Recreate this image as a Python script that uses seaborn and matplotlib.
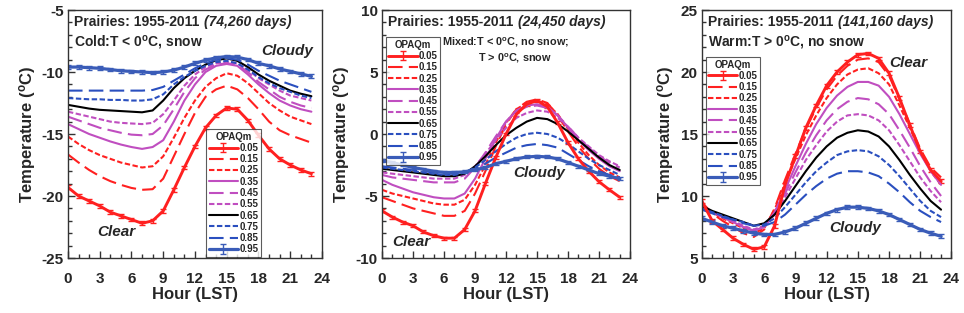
import numpy as np
import pandas as pd
import seaborn as sns
import matplotlib.pyplot as plt
from matplotlib.ticker import MultipleLocator

# hour of day (LST)
hours = list(range(24))
opaq_levels = ["0.05", "0.15", "0.25", "0.35", "0.45", "0.55", "0.65", "0.75", "0.85", "0.95"]

# Cold: T < 0C, snow  (one row per OPAQm level)
cold_t = [
    [-19.3, -20.0, -20.4, -20.8, -21.3, -21.6, -21.9, -22.2, -22.0, -21.2, -19.5, -17.7, -16.0, -14.5, -13.5, -12.9, -13.0, -13.9, -15.1, -16.2, -17.0, -17.5, -17.9, -18.2],
    [-16.65, -17.3, -17.9, -18.4, -18.8, -19.1, -19.35, -19.5, -19.45, -18.6, -16.8, -15.0, -13.3, -12.0, -11.4, -11.1, -11.4, -12.1, -13.0, -14.0, -14.7, -15.1, -15.4, -15.7],
    [-15.2, -15.8, -16.3, -16.7, -17.0, -17.3, -17.5, -17.7, -17.6, -16.8, -15.3, -13.7, -12.3, -11.2, -10.5, -10.1, -10.3, -10.9, -11.7, -12.5, -13.1, -13.6, -13.9, -14.2],
    [-14.2, -14.6, -15.0, -15.3, -15.6, -15.85, -16.05, -16.2, -16.05, -15.5, -14.0, -12.3, -11.0, -10.0, -9.5, -9.35, -9.5, -10.2, -11.0, -11.7, -12.3, -12.7, -13.0, -13.2],
    [-13.6, -13.9, -14.2, -14.5, -14.7, -14.9, -15.05, -15.1, -15.0, -14.3, -13.0, -11.6, -10.5, -9.8, -9.4, -9.3, -9.4, -10.0, -10.8, -11.4, -12.0, -12.4, -12.7, -12.9],
    [-13.2, -13.4, -13.6, -13.8, -14.0, -14.1, -14.15, -14.2, -14.1, -13.4, -12.3, -11.1, -10.2, -9.6, -9.3, -9.2, -9.3, -9.8, -10.5, -11.0, -11.5, -11.9, -12.1, -12.3],
    [-12.65, -12.8, -12.95, -13.05, -13.1, -13.15, -13.2, -13.25, -13.1, -12.3, -11.3, -10.5, -9.9, -9.4, -9.05, -8.9, -9.1, -9.6, -10.2, -10.7, -11.1, -11.5, -11.75, -11.95],
    [-12.1, -12.15, -12.2, -12.2, -12.25, -12.25, -12.3, -12.3, -12.2, -11.8, -11.0, -10.4, -9.9, -9.5, -9.2, -9.1, -9.3, -9.8, -10.4, -10.9, -11.3, -11.6, -11.9, -12.1],
    [-11.5, -11.5, -11.5, -11.5, -11.5, -11.5, -11.5, -11.5, -11.45, -11.2, -10.7, -10.2, -9.7, -9.3, -9.0, -8.9, -9.0, -9.4, -9.9, -10.3, -10.7, -11.0, -11.3, -11.6],
    [-9.6, -9.6, -9.65, -9.7, -9.8, -9.9, -9.95, -10.0, -10.05, -10.0, -9.85, -9.6, -9.3, -9.05, -8.85, -8.75, -8.8, -9.0, -9.3, -9.5, -9.75, -9.95, -10.15, -10.35],
]

# Mixed: T < 0C no snow; T > 0C snow
mixed_t = [
    [-6.2, -6.7, -7.1, -7.4, -7.9, -8.2, -8.4, -8.4, -7.7, -6.2, -4.0, -1.9, 0.0, 1.6, 2.4, 2.7, 2.2, 0.9, -0.7, -2.0, -3.0, -3.85, -4.5, -5.1],
    [-5.1, -5.4, -5.7, -6.0, -6.2, -6.4, -6.6, -6.6, -6.2, -4.8, -3.0, -1.0, 0.8, 2.0, 2.6, 2.8, 2.5, 1.5, 0.2, -1.0, -2.0, -2.8, -3.4, -3.8],
    [-4.5, -4.8, -5.0, -5.2, -5.4, -5.6, -5.7, -5.7, -5.3, -4.1, -2.5, -0.7, 0.9, 2.0, 2.5, 2.7, 2.4, 1.6, 0.4, -0.7, -1.7, -2.5, -3.1, -3.5],
    [-3.7, -4.1, -4.4, -4.7, -4.9, -5.1, -5.2, -5.2, -4.8, -3.6, -2.0, -0.4, 1.0, 1.9, 2.3, 2.4, 2.2, 1.5, 0.5, -0.5, -1.3, -2.0, -2.6, -3.0],
    [-3.3, -3.5, -3.6, -3.7, -3.8, -3.9, -3.9, -3.9, -3.6, -2.7, -1.5, -0.2, 1.0, 1.8, 2.2, 2.3, 2.1, 1.5, 0.6, -0.3, -1.1, -1.8, -2.3, -2.7],
    [-3.1, -3.2, -3.3, -3.4, -3.5, -3.6, -3.6, -3.6, -3.3, -2.6, -1.6, -0.5, 0.5, 1.3, 1.7, 1.9, 1.8, 1.3, 0.6, -0.3, -1.0, -1.7, -2.2, -2.6],
    [-2.8, -2.9, -3.0, -3.1, -3.2, -3.3, -3.4, -3.4, -3.2, -2.6, -1.8, -0.9, -0.1, 0.5, 1.0, 1.3, 1.2, 0.8, 0.2, -0.5, -1.2, -1.9, -2.5, -2.9],
    [-2.7, -2.8, -2.9, -3.0, -3.1, -3.2, -3.3, -3.3, -3.1, -2.7, -2.1, -1.4, -0.8, -0.3, 0.0, 0.1, 0.0, -0.3, -0.8, -1.4, -2.0, -2.5, -2.9, -3.3],
    [-2.6, -2.7, -2.8, -2.9, -3.0, -3.1, -3.2, -3.2, -3.1, -2.8, -2.4, -1.9, -1.5, -1.1, -0.9, -0.8, -0.9, -1.1, -1.6, -2.1, -2.6, -3.0, -3.3, -3.5],
    [-2.15, -2.3, -2.5, -2.7, -2.85, -3.0, -3.1, -3.1, -3.05, -2.9, -2.7, -2.4, -2.2, -2.0, -1.85, -1.8, -1.85, -2.0, -2.3, -2.6, -2.9, -3.2, -3.4, -3.6],
]

# Warm: T > 0C, no snow
warm_t = [
    [9.6, 8.0, 7.3, 6.6, 6.1, 5.7, 5.9, 7.6, 10.9, 13.2, 15.5, 17.3, 18.9, 20.0, 20.8, 21.4, 21.5, 21.1, 19.9, 17.9, 15.7, 13.6, 12.1, 11.2],
    [9.5, 8.6, 8.0, 7.5, 7.0, 6.7, 7.3, 9.0, 11.3, 13.4, 15.4, 17.1, 18.6, 19.7, 20.5, 21.0, 21.1, 20.8, 19.7, 17.8, 15.8, 13.8, 12.3, 11.5],
    [9.3, 8.7, 8.2, 7.8, 7.4, 7.0, 7.4, 8.9, 11.0, 13.0, 14.9, 16.5, 17.9, 19.0, 19.8, 20.2, 20.3, 19.9, 19.0, 17.3, 15.5, 13.6, 12.0, 10.9],
    [9.2, 8.7, 8.3, 7.9, 7.5, 7.2, 7.5, 8.7, 10.5, 12.4, 14.2, 15.8, 17.1, 18.1, 18.8, 19.2, 19.2, 18.9, 18.0, 16.6, 15.0, 13.4, 12.0, 10.9],
    [9.2, 8.7, 8.3, 7.9, 7.5, 7.2, 7.5, 8.6, 10.2, 11.9, 13.5, 14.9, 16.1, 17.0, 17.6, 17.9, 17.8, 17.4, 16.6, 15.3, 13.9, 12.4, 11.1, 10.0],
    [9.1, 8.7, 8.3, 8.0, 7.6, 7.3, 7.6, 8.5, 9.9, 11.4, 12.9, 14.1, 15.2, 16.0, 16.5, 16.6, 16.5, 16.1, 15.3, 14.1, 12.8, 11.5, 10.4, 9.5],
    [9.2, 8.8, 8.5, 8.2, 7.9, 7.6, 7.8, 8.5, 9.6, 10.8, 12.0, 13.1, 14.0, 14.7, 15.1, 15.3, 15.2, 14.8, 14.0, 12.9, 11.7, 10.6, 9.6, 8.9],
    [9.0, 8.7, 8.4, 8.1, 7.9, 7.6, 7.7, 8.2, 9.1, 10.1, 11.1, 12.0, 12.7, 13.3, 13.6, 13.7, 13.6, 13.2, 12.5, 11.6, 10.6, 9.6, 8.8, 8.3],
    [8.9, 8.6, 8.3, 8.1, 7.8, 7.6, 7.6, 7.9, 8.5, 9.3, 10.1, 10.8, 11.4, 11.8, 12.0, 12.0, 11.9, 11.6, 11.0, 10.3, 9.5, 8.8, 8.3, 7.9],
    [8.2, 7.9, 7.6, 7.4, 7.2, 7.0, 6.9, 6.9, 7.1, 7.4, 7.8, 8.2, 8.6, 8.9, 9.1, 9.1, 9.0, 8.8, 8.5, 8.1, 7.7, 7.3, 7.0, 6.75],
]

# error bar half-widths for clearest/cloudiest series
err_halfwidth = [0.15, 0.12, 0.15]

day_counts = ["(74,260 days)", "(24,450 days)", "(141,160 days)"]
ylims = [(-25, -5), (-10, 10), (5, 25)]

sns.set_style("ticks")
plt.rcParams["font.family"] = ["Liberation Sans", "DejaVu Sans"]
plt.rcParams["font.weight"] = "bold"
plt.rcParams["axes.labelweight"] = "bold"
plt.rcParams["axes.unicode_minus"] = False
plt.rcParams["mathtext.fontset"] = "custom"
plt.rcParams["mathtext.rm"] = "Liberation Sans:bold"
plt.rcParams["mathtext.default"] = "rm"

RED = "#ff2020"
MAG = "#c04ec0"
BLUE = "#2a4fbf"
BLUE_THICK = "#3a5cb8"
LONG = (0, (7, 3))
SHORT = (0, (2.6, 1.2))
styles = [
    (RED, "-", 2.1), (RED, LONG, 1.5), (RED, SHORT, 1.5),
    (MAG, "-", 1.5), (MAG, LONG, 1.5), (MAG, SHORT, 1.5),
    ("black", "-", 1.5),
    (BLUE, SHORT, 1.5), (BLUE, LONG, 1.5), (BLUE_THICK, "-", 2.3),
]

fig = plt.figure(figsize=(9.64, 3.13), dpi=100)
rects = [
    [0.0705, 0.1757, 0.2635, 0.7923],
    [0.3963, 0.1757, 0.2573, 0.7923],
    [0.7280, 0.1757, 0.2590, 0.7923],
]
axes = [fig.add_axes(r) for r in rects]

for i, (ax, temps) in enumerate(zip(axes, [cold_t, mixed_t, warm_t])):
    handles = []
    for level, vals, (col, ls, lw) in zip(opaq_levels, temps, styles):
        if level in ("0.05", "0.95"):
            h = ax.errorbar(hours, vals, yerr=err_halfwidth[i], color=col, lw=lw,
                            elinewidth=1.0, capsize=2.2, capthick=1.0, label=level)
            handles.append(h)
        else:
            df = pd.DataFrame({"hour": hours, "temp": vals})
            sns.lineplot(data=df, x="hour", y="temp", ax=ax, color=col,
                         linestyle=ls, lw=lw, label=level, legend=False)
            handles.append(ax.lines[-1])

    ax.set_xlim(0, 24)
    ax.set_ylim(*ylims[i])
    ax.xaxis.set_major_locator(MultipleLocator(3))
    ax.xaxis.set_minor_locator(MultipleLocator(1))
    ax.yaxis.set_major_locator(MultipleLocator(5))
    ax.yaxis.set_minor_locator(MultipleLocator(1))
    ax.tick_params(which="both", direction="in", labelsize=11, width=1.0, color="#333333")
    ax.tick_params(which="major", length=5)
    ax.tick_params(which="minor", length=3)
    ax.tick_params(axis="x", which="major", pad=10)
    ax.tick_params(axis="y", which="major", pad=3)
    for lab in ax.get_xticklabels() + ax.get_yticklabels():
        lab.set_fontweight("bold")
    for sp in ax.spines.values():
        sp.set_linewidth(1.0)
        sp.set_color("#333333")
    ax.set_xlabel("Hour (LST)", fontsize=12, fontweight="bold", labelpad=1)
    ax.set_ylabel("Temperature ($^{o}$C)", fontsize=12, fontweight="bold", labelpad=3)

    t1 = ax.text(0.025, 0.95, "Prairies: 1955-2011", transform=ax.transAxes,
                 fontsize=10, fontweight="bold", va="center", ha="left")
    ax.annotate(day_counts[i], xy=(1, 0.5), xycoords=t1, xytext=(3, 0),
                textcoords="offset points", va="center", ha="left",
                fontsize=10, fontweight="bold", style="italic")

    leg_anchor = [(0.545, 0.005), (0.016, 0.89), (0.016, 0.81)][i]
    leg_loc = ["lower left", "upper left", "upper left"][i]
    leg = ax.legend(handles, opaq_levels, title="OPAQm", loc=leg_loc,
                    bbox_to_anchor=leg_anchor, fontsize=7, title_fontsize=7,
                    handlelength=3.0, handletextpad=0.15, labelspacing=0.13,
                    borderpad=0.25, borderaxespad=0, frameon=True, fancybox=False)
    leg.get_frame().set_edgecolor("#333333")
    leg.get_frame().set_linewidth(0.8)
    leg.get_title().set_fontweight("bold")
    for txt in leg.get_texts():
        txt.set_fontweight("bold")

a1, a2, a3 = axes
a1.text(0.025, 0.867, "Cold:T < 0$^{o}$C, snow", transform=a1.transAxes,
        fontsize=10, fontweight="bold", va="center")
a1.text(0.76, 0.835, "Cloudy", transform=a1.transAxes, fontsize=11,
        fontweight="bold", style="italic", va="center")
a1.text(0.115, 0.105, "Clear", transform=a1.transAxes, fontsize=11,
        fontweight="bold", style="italic", va="center")

a2.text(0.24, 0.87, "Mixed:T < 0$^{o}$C, no snow;", transform=a2.transAxes,
        fontsize=7.8, fontweight="bold", va="center")
a2.text(0.385, 0.806, "T > 0$^{o}$C, snow", transform=a2.transAxes,
        fontsize=7.8, fontweight="bold", va="center")
a2.text(0.53, 0.343, "Cloudy", transform=a2.transAxes, fontsize=11,
        fontweight="bold", style="italic", va="center")
a2.text(0.04, 0.065, "Clear", transform=a2.transAxes, fontsize=11,
        fontweight="bold", style="italic", va="center")

a3.text(0.025, 0.867, "Warm:T > 0$^{o}$C, no snow", transform=a3.transAxes,
        fontsize=10, fontweight="bold", va="center")
a3.text(0.752, 0.786, "Clear", transform=a3.transAxes, fontsize=11,
        fontweight="bold", style="italic", va="center")
a3.text(0.51, 0.12, "Cloudy", transform=a3.transAxes, fontsize=11,
        fontweight="bold", style="italic", va="center")

fig.savefig("out.png", dpi=100)
